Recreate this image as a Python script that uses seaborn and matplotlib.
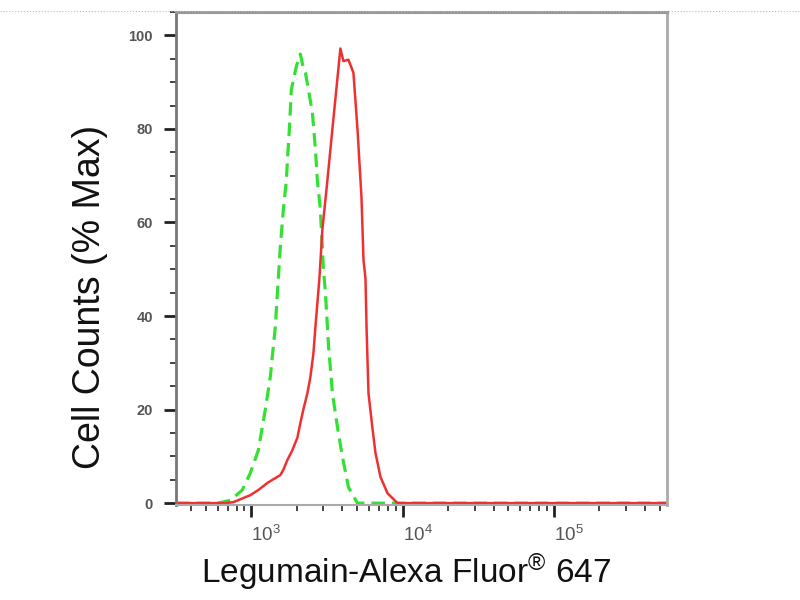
import numpy as np
import pandas as pd
import matplotlib
matplotlib.use("Agg")
import matplotlib.pyplot as plt
from matplotlib.lines import Line2D
from matplotlib.ticker import LogLocator, MultipleLocator, FixedLocator
import seaborn as sns

# control histogram (green, dashed)
ctrl_x = [318, 595, 726, 872, 985, 1113, 1238, 1336, 1442, 1509, 1556, 1629, 1706,
          1731, 1786, 1840, 1990, 2111, 2209, 2280, 2384, 2535, 2655, 2735, 2851,
          2909, 2999, 3092, 3236, 3438, 3712, 4006, 4388, 5035, 5.6e5]
ctrl_y = [0, 0, 0.6, 2.8, 6.4, 11.3, 20, 27, 37.7, 48, 54.8, 62.7, 69,
          72.8, 80, 88.4, 93.5, 96, 93, 92, 88.5, 83.5, 75.6, 69, 63.4,
          58.5, 50, 45, 34, 23.5, 16.3, 9.9, 3.4, 0, 0]

# Legumain stained sample (red, solid)
leg_x = [318, 673, 760, 985, 1113, 1276, 1399, 1556, 1629, 1731, 1868, 2018, 2111,
         2209, 2350, 2460, 2575, 2655, 2820, 2870, 2952, 3186, 3438, 3883, 4065,
         4388, 4736, 5035, 5350, 5520, 5690, 5780, 5955, 6325, 6624, 7147, 7960,
         9266, 5.6e5]
leg_y = [0, 0, 0.2, 1.7, 2.8, 4.3, 5.1, 6, 7.1, 9.2, 11.3, 14, 17.1,
         20, 23.5, 27, 32, 37.7, 48, 52, 58.5, 69, 80, 97.2, 94.5,
         94.8, 92, 80, 65.5, 52, 48, 37.7, 23.5, 16, 10.7, 5.6, 2.1,
         0, 0]

x_label = "Legumain-Alexa Fluor$^{®}$ 647"
y_label = "Cell Counts (% Max)"
y_ticks = [0, 20, 40, 60, 80, 100]

sns.set_style("ticks")
plt.rcParams["font.family"] = ["Liberation Sans", "DejaVu Sans"]
plt.rcParams["mathtext.fontset"] = "custom"
plt.rcParams["mathtext.rm"] = "Liberation Sans"
plt.rcParams["mathtext.it"] = "Liberation Sans"
plt.rcParams["mathtext.bf"] = "Liberation Sans:bold"
plt.rcParams["mathtext.default"] = "regular"

fig = plt.figure(figsize=(8, 6), dpi=100)
ax = fig.add_axes([176 / 800, 1 - 505 / 600, 491 / 800, 493 / 600])

ctrl = pd.DataFrame({"x": ctrl_x, "y": ctrl_y})
leg = pd.DataFrame({"x": leg_x, "y": leg_y})

sns.lineplot(data=ctrl, x="x", y="y", ax=ax, color="#33e133", lw=2.3,
             linestyle=(0, (4.2, 2.2)), estimator=None, sort=False)
sns.lineplot(data=leg, x="x", y="y", ax=ax, color="#f03030", lw=1.8,
             estimator=None, sort=False)

ax.set_xscale("log")
ax.set_xlim(318, 5.6e5)
ax.set_ylim(-0.4, 105)
ax.set_xlabel("")
ax.set_ylabel("")

ax.xaxis.set_major_locator(LogLocator(base=10))
ax.xaxis.set_minor_locator(LogLocator(base=10, subs=np.arange(2, 10)))
ax.yaxis.set_major_locator(FixedLocator(y_ticks))
ax.yaxis.set_minor_locator(MultipleLocator(5))

ax.tick_params(axis="both", which="major", direction="out", length=8.6, width=2,
               color="#222", labelcolor="#555")
ax.tick_params(axis="both", which="minor", direction="out", length=4.3, width=1.4,
               color="#444")
ax.tick_params(axis="y", which="major", pad=8, labelsize=10.5)
ax.tick_params(axis="x", which="major", pad=6, labelsize=13.5)
for lab in ax.get_yticklabels():
    lab.set_fontweight("bold")
for lab in ax.get_xticklabels():
    lab.set_horizontalalignment("left")

ax.spines["left"].set_color("#777")
ax.spines["left"].set_linewidth(2)
ax.spines["bottom"].set_color("#aaa")
ax.spines["bottom"].set_linewidth(1.5)
ax.spines["top"].set_color("#999")
ax.spines["top"].set_linewidth(2.2)
ax.spines["right"].set_color("#aaa")
ax.spines["right"].set_linewidth(2)

fig.add_artist(Line2D([0, 1], [1 - 11 / 600, 1 - 11 / 600], transform=fig.transFigure,
                      ls=":", color="#bbb", lw=0.8))

fig.text(406 / 800, 1 - 583 / 600, x_label, ha="center", va="baseline",
         fontsize=24, color="#111")
fig.text(90 / 800, 1 - 297 / 600, y_label, ha="center", va="center",
         rotation=90, fontsize=27, color="#111")

fig.savefig("out.png", dpi=100)
